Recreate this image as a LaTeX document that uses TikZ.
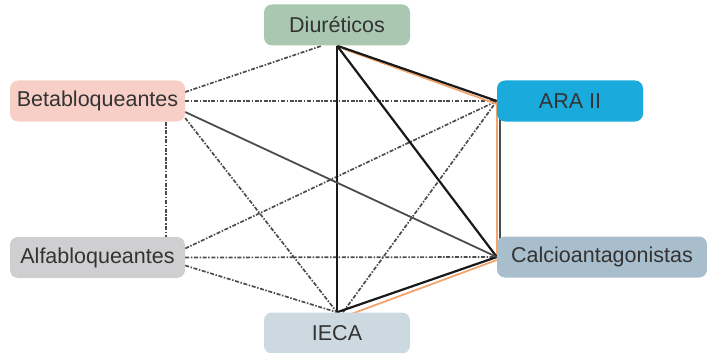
\documentclass[tikz,border=0pt]{standalone}
\usepackage{fontspec}
\setmainfont{Liberation Sans}
\usetikzlibrary{backgrounds}
\definecolor{diurgreen}{HTML}{AAC8B1}
\definecolor{betapink}{HTML}{F8CFC6}
\definecolor{arablue}{HTML}{1BAADC}
\definecolor{alfagray}{HTML}{CFCFD1}
\definecolor{calciogray}{HTML}{A9BECC}
\definecolor{iecagray}{HTML}{CDD9E1}
\definecolor{orangeline}{HTML}{F2A46C}
\tikzset{
  drug/.style={rounded corners=8pt, minimum height=41pt, inner sep=0pt,
    text=black!80, font=\fontsize{21.5}{25}\selectfont},
  solidlink/.style={line width=2.2pt, black!90},
  greylink/.style={line width=1.8pt, black!70},
  dashlink/.style={line width=1.7pt, black!70,
    dash pattern=on 4pt off 1.6pt on 1.5pt off 1.6pt},
  orangelink/.style={line width=1.8pt, orangeline},
}
\begin{document}
\begin{tikzpicture}[x=1pt,y=-1pt]
        \useasboundingbox (0,0) rectangle (707,353);
        \node[drug, fill=diurgreen, minimum width=146pt] (diur) at (337,25) {Diuréticos};
        \node[drug, fill=betapink, minimum width=175pt] (beta) at (97.5,101) {Betabloqueantes};
        \node[drug, fill=arablue, minimum width=146pt] (ara) at (570,101) {ARA II};
        \node[drug, fill=alfagray, minimum width=175pt] (alfa) at (97.5,257.5) {Alfabloqueantes};
        \node[drug, fill=calciogray, minimum width=210pt] (calcio) at (602,257) {Calcioantagonistas};
        \node[drug, fill=iecagray, minimum width=146pt] (ieca) at (337,333) {IECA};
        \begin{scope}[on background layer]
        % dashed links
        \draw[dashlink] ([yshift=9pt]beta.east) -- ([xshift=-15pt]diur.south);
        \draw[dashlink] (beta.east) -- (ara.west);
        \draw[dashlink] ([xshift=-19pt]beta.south east) -- ([xshift=-19pt]alfa.north east);
        \draw[dashlink] ([yshift=-17pt]beta.east) -- (ieca.north);
        \draw[dashlink] ([yshift=9pt]alfa.east) -- (ara.west);
        \draw[dashlink] (alfa.east) -- (calcio.west);
        \draw[dashlink] ([yshift=-8pt]alfa.east) -- (ieca.north);
        \draw[dashlink] ([xshift=6pt]ieca.north) -- (ara.west);
        % solid links
        \draw[orangelink] ([shift={(6pt,-3pt)}]diur.south) -- ([yshift=-3pt]ara.west);
        \draw[orangelink] (ara.west) -- (calcio.west);
        \draw[orangelink] ([shift={(8pt,-4pt)}]ieca.north) -- ([yshift=-3pt]calcio.west);
        \draw[solidlink] (diur.south) -- (ieca.north);
        \draw[solidlink] (diur.south) -- (calcio.west);
        \draw[solidlink] (diur.south) -- (ara.west);
        \draw[solidlink] (ieca.north) -- (calcio.west);
        \draw[greylink] ([yshift=-11pt]beta.east) -- (calcio.west);
        \draw[greylink] ([xshift=3pt]ara.west) -- ([xshift=3pt]calcio.west);
        \end{scope}
\end{tikzpicture}
\end{document}
